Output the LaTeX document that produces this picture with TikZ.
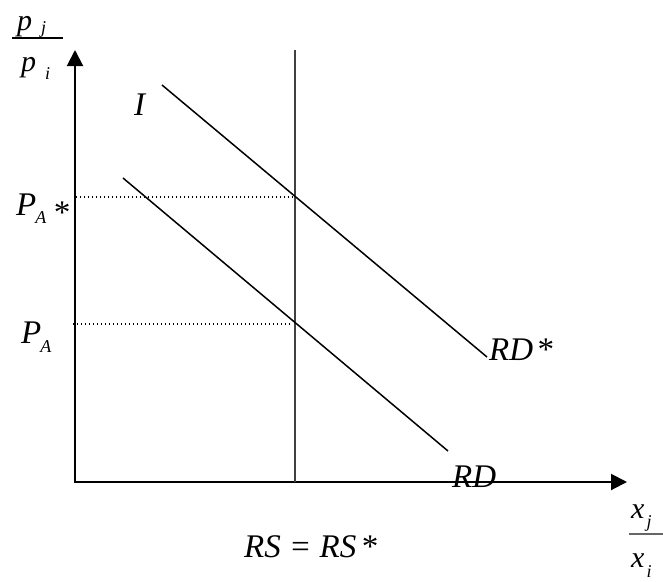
\documentclass[tikz,border=0pt]{standalone}
\usepackage{fontspec}
\setmainfont{Liberation Serif}
\usetikzlibrary{arrows.meta}

\begin{document}
\begin{tikzpicture}[x=1pt,y=-1pt]
  \tikzset{
    axis tip/.tip={Triangle[width=16pt,length=16pt]},
    price axes/.style={line width=2pt, axis tip-axis tip},
    supply line/.style={line width=1.4pt, draw=black!75},
    demand line/.style={line width=1.5pt},
    price guide/.style={line width=1.2pt, dash pattern=on 1.2pt off 2.8pt},
    ratio bar/.style={line width=1.5pt, #1},
    ratio bar/.default=black,
    big label/.style={inner sep=0pt, anchor=base west,
      font=\fontsize{33}{38}\selectfont\itshape},
    ratio label/.style={inner sep=0pt, anchor=base west,
      font=\fontsize{30}{34}\selectfont\itshape},
  }
  \newcommand{\lowidx}[2][8]{\raisebox{-#1pt}{\fontsize{18}{20}\selectfont\itshape #2}}

  \useasboundingbox (0,0) rectangle (663,581);

  % axes
  \coordinate (origin) at (75,482);
  \coordinate (ytip) at (75,50);
  \coordinate (xtip) at (627,482);
  \draw[price axes] (ytip) -- (origin) -- (xtip);

  % relative supply
  \coordinate (rs top) at (295,50);
  \coordinate (rs foot) at (295,482);
  \draw[supply line] (rs top) -- (rs foot);

  % relative demand, before and after
  \coordinate (rdstar start) at (162,85);
  \coordinate (rdstar end) at (487,357);
  \coordinate (rd start) at (123,178);
  \coordinate (rd end) at (448,451);
  \draw[demand line] (rdstar start) -- (rdstar end);
  \draw[demand line] (rd start) -- (rd end);

  % price levels
  \coordinate (pastar left) at (76,197);
  \coordinate (pastar right) at (295,197);
  \coordinate (pa left) at (73,324);
  \coordinate (pa right) at (291,324);
  \draw[price guide] (pastar left) -- (pastar right);
  \draw[price guide] (pa left) -- (pa right);

  % labels
  \node[big label] (pastar lbl) at (16,215) {P\kern-1pt\lowidx{A}\kern6pt\raisebox{-8pt}{*}};
  \node[big label] (pa lbl) at (21,343) {P\kern-1pt\lowidx[9]{A}};
  \node[big label] (i lbl) at (134,115) {I};
  \node[big label] (rdstar lbl) at (489,360) {RD\kern3pt*};
  \node[big label] (rd lbl) at (452,487) {RD};
  \node[big label] (rs lbl) at (244,557) {RS = RS\kern4pt*};

  % price ratio
  \node[ratio label] (pj lbl) at (17,30) {p\kern9pt\lowidx[3]{j}};
  \coordinate (pbar left) at (12,38);
  \coordinate (pbar right) at (63,38);
  \draw[ratio bar] (pbar left) -- (pbar right);
  \node[ratio label] (pi lbl) at (21,71) {p\kern9pt\lowidx[8]{i}};

  % quantity ratio
  \node[ratio label] (xj lbl) at (631,518) {x\kern2pt\lowidx[9]{j}};
  \coordinate (xbar left) at (629,534);
  \coordinate (xbar right) at (663,534);
  \draw[ratio bar=black!60] (xbar left) -- (xbar right);
  \node[ratio label] (xi lbl) at (631,567) {x\kern2pt\lowidx[10]{i}};
\end{tikzpicture}
\end{document}
